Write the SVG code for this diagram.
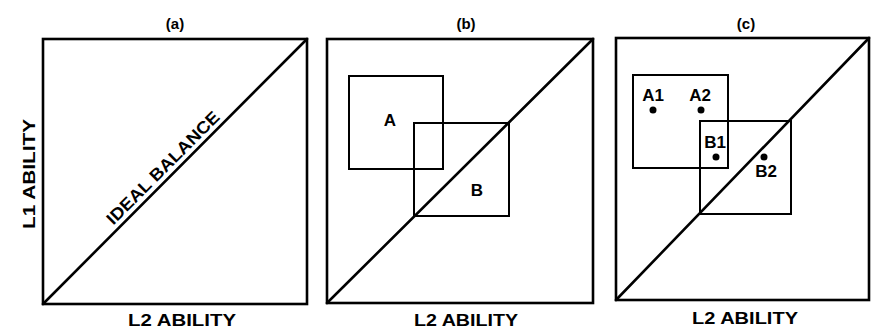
<svg xmlns="http://www.w3.org/2000/svg" width="871" height="330" viewBox="0 0 871 330">
<style>
.frame{fill:none;stroke:#000;stroke-width:2.6}
.diag{fill:none;stroke:#000;stroke-width:2.6;stroke-linecap:round}
.box{fill:none;stroke:#000;stroke-width:2}
.t{font-family:"Liberation Sans",Arial,sans-serif;font-weight:bold;fill:#000;text-anchor:middle}
.title{font-size:15px}
.axis{font-size:17px}
.lbl{font-size:17px}
.dot{fill:#000}
</style>
<rect width="871" height="330" fill="#fff"/>
<g id="panel-a">
<text class="t title" x="175" y="29">(a)</text>
<rect class="frame" x="43" y="39" width="264" height="265"/>
<line class="diag" x1="43" y1="304" x2="307" y2="39"/>
<text class="t" font-size="17" x="0" y="0" transform="translate(167,172) rotate(-45)" textLength="152" lengthAdjust="spacingAndGlyphs">IDEAL BALANCE</text>
<text class="t axis" x="0" y="0" transform="translate(35,174) rotate(-90)" textLength="110" lengthAdjust="spacingAndGlyphs">L1 ABILITY</text>
<text class="t axis" x="182" y="326" textLength="108" lengthAdjust="spacingAndGlyphs">L2 ABILITY</text>
</g>
<g id="panel-b">
<text class="t title" x="466" y="29">(b)</text>
<rect class="frame" x="327" y="39" width="266" height="264"/>
<line class="diag" x1="327" y1="303" x2="593" y2="39"/>
<g id="b-box-A"><rect class="box" x="349" y="76" width="94" height="93"/><text class="t lbl" x="390" y="126">A</text></g>
<g id="b-box-B"><rect class="box" x="414" y="123" width="95" height="93"/><text class="t lbl" x="477" y="196">B</text></g>
<text class="t axis" x="466" y="326" textLength="104" lengthAdjust="spacingAndGlyphs">L2 ABILITY</text>
</g>
<g id="panel-c">
<text class="t title" x="746" y="29">(c)</text>
<rect class="frame" x="616" y="38" width="253" height="262"/>
<line class="diag" x1="616" y1="300" x2="869" y2="38"/>
<g id="c-box-A"><rect class="box" x="633" y="75" width="95" height="93"/></g>
<g id="c-box-B"><rect class="box" x="700" y="121" width="91" height="93"/></g>
<g id="A1"><text class="t lbl" x="653" y="101">A1</text><circle class="dot" cx="653" cy="110" r="3.5"/></g>
<g id="A2"><text class="t lbl" x="700" y="101">A2</text><circle class="dot" cx="701" cy="110" r="3.5"/></g>
<g id="B1"><text class="t lbl" x="715" y="148">B1</text><circle class="dot" cx="716" cy="157" r="3.5"/></g>
<g id="B2"><text class="t lbl" x="766" y="177">B2</text><circle class="dot" cx="764" cy="157" r="3.5"/></g>
<text class="t axis" x="745" y="324" textLength="106" lengthAdjust="spacingAndGlyphs">L2 ABILITY</text>
</g>
</svg>
